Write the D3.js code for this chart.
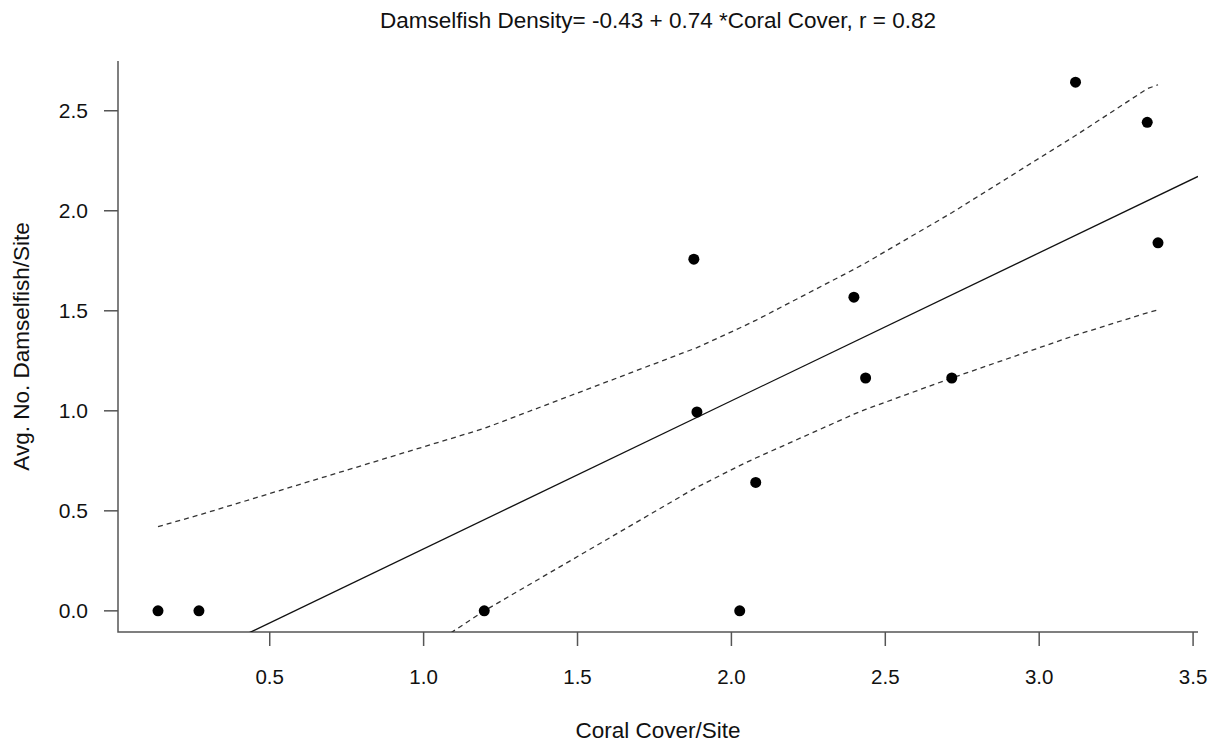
<!DOCTYPE html>
<meta charset="utf-8">
<style type="text/css">
	body { margin: 0; background: #fff; }
	svg text { font-family: "Liberation Sans", Arial, sans-serif; fill: #111; }
	.axis line, .axis path { stroke: #555; stroke-width: 1.5; fill: none; }
	.band { fill: none; stroke: #333; stroke-width: 1.3; stroke-dasharray: 5,4; }
	.fit { fill: none; stroke: #111; stroke-width: 1.3; }
</style>
<svg width="1213" height="744"></svg>
<script src="https://cdn.jsdelivr.net/npm/d3@7"></script>
<script type="text/javascript">
	// observations
	var coral = [0.137, 0.270, 1.197, 1.878, 1.888, 2.027, 2.079, 2.398, 2.436, 2.716, 3.118, 3.351, 3.386];
	var damsel = [0.0, 0.0, 0.0, 1.758, 0.994, 0.0, 0.642, 1.568, 1.164, 1.164, 2.643, 2.442, 1.840];

	// fitted line (from title)
	var intercept = -0.43, slope = 0.74;

	// confidence band, at the sorted coral values
	var upperBand = [0.421, 0.479, 0.912, 1.310, 1.316, 1.414, 1.452, 1.707, 1.739, 1.990, 2.376, 2.610, 2.630];
	var lowerBand = [-1.078, -0.939, 0.000, 0.610, 0.618, 0.726, 0.764, 0.983, 1.007, 1.164, 1.378, 1.490, 1.504];

	var xTicks = [0.5, 1.0, 1.5, 2.0, 2.5, 3.0, 3.5];
	var yTicks = [0.0, 0.5, 1.0, 1.5, 2.0, 2.5];

	var title = "Damselfish Density= -0.43 + 0.74 *Coral Cover, r = 0.82";
	var xLabel = "Coral Cover/Site", yLabel = "Avg. No. Damselfish/Site";

	var svg = d3.select("svg"),
		width = +svg.attr("width"),
		height = +svg.attr("height");

	var margin = {top: 61, right: 15, bottom: 112, left: 118};

	// R style: pad data range by 4% each side
	function pad(ext){ var d = (ext[1]-ext[0])*0.04; return [ext[0]-d, ext[1]+d]; }

	var x = d3.scaleLinear().domain(pad(d3.extent(coral))).range([margin.left, width - margin.right]);
	var y = d3.scaleLinear().domain(pad(d3.extent(damsel))).range([height - margin.bottom, margin.top]);

	var fmt = d3.format(".1f");

	svg.append("defs").append("clipPath").attr("id","plotclip")
		.append("rect")
		.attr("x", x.range()[0]).attr("y", y.range()[1])
		.attr("width", x.range()[1]-x.range()[0]).attr("height", y.range()[0]-y.range()[1]);

	// axes (L-shaped box)
	var ax = svg.append("g").attr("class","axis");
	ax.append("path").attr("d", "M" + x.range()[0] + "," + y.range()[1] + "V" + y.range()[0] + "H" + x.range()[1]);

	ax.selectAll(".xt").data(xTicks).enter().append("line")
		.attr("x1", function(d){return x(d)}).attr("x2", function(d){return x(d)})
		.attr("y1", y.range()[0]).attr("y2", y.range()[0] + 14);
	svg.selectAll(".xl").data(xTicks).enter().append("text")
		.attr("x", function(d){return x(d)}).attr("y", y.range()[0] + 52)
		.attr("text-anchor","middle").style("font-size","20.5px")
		.text(fmt);

	ax.selectAll(".yt").data(yTicks).enter().append("line")
		.attr("x1", x.range()[0] - 14).attr("x2", x.range()[0])
		.attr("y1", function(d){return y(d)}).attr("y2", function(d){return y(d)});
	svg.selectAll(".yl").data(yTicks).enter().append("text")
		.attr("x", x.range()[0] - 30).attr("y", function(d){return y(d)})
		.attr("dy","0.36em").attr("text-anchor","end").style("font-size","21px")
		.text(fmt);

	var plot = svg.append("g").attr("clip-path","url(#plotclip)");

	// regression line across the full x range
	var xd = x.domain();
	plot.append("line").attr("class","fit")
		.attr("x1", x(xd[0])).attr("y1", y(intercept + slope*xd[0]))
		.attr("x2", x(xd[1])).attr("y2", y(intercept + slope*xd[1]));

	var line = d3.line().x(function(d){return x(d[0])}).y(function(d){return y(d[1])});
	plot.append("path").attr("class","band").attr("d", line(d3.zip(coral, upperBand)));
	plot.append("path").attr("class","band").attr("d", line(d3.zip(coral, lowerBand)));

	svg.append("g").selectAll("circle").data(d3.zip(coral, damsel)).enter().append("circle")
		.attr("cx", function(d){return x(d[0])}).attr("cy", function(d){return y(d[1])})
		.attr("r", 5.5).attr("fill","#000");

	// titles
	svg.append("text").attr("x", (x.range()[0]+x.range()[1])/2).attr("y", 28)
		.attr("text-anchor","middle").style("font-size","22.5px").text(title);
	svg.append("text").attr("x", (x.range()[0]+x.range()[1])/2).attr("y", 738)
		.attr("text-anchor","middle").style("font-size","22.5px").text(xLabel);
	svg.append("text").attr("transform","translate(29," + (y.range()[0]+y.range()[1])/2 + ")rotate(-90)")
		.attr("text-anchor","middle").style("font-size","22.5px").text(yLabel);
</script>
